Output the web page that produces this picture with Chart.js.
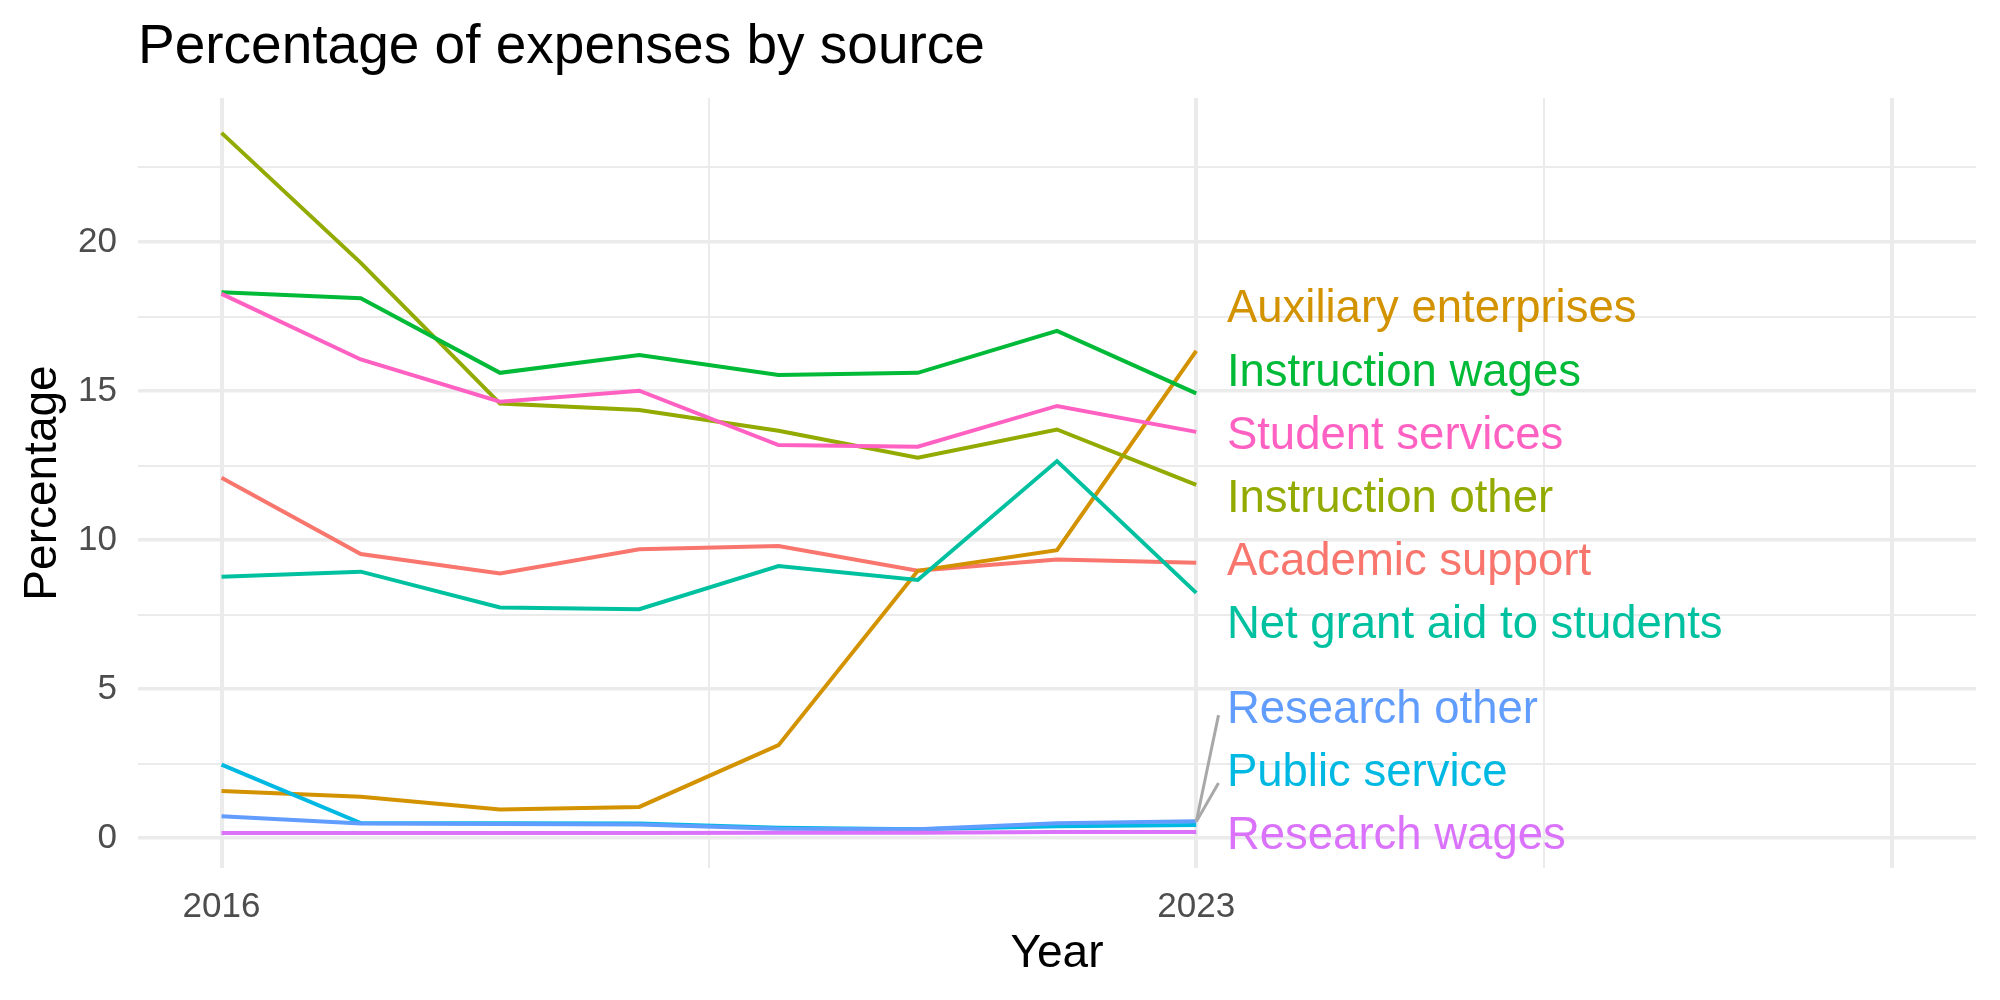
<!DOCTYPE html>
<html>
<head>
<meta charset="utf-8">
<script src="https://cdn.jsdelivr.net/npm/chart.js@4"></script>
<style>
  html, body { margin: 0; padding: 0; background: #fff; }
  #wrap { width: 2000px; height: 1000px; }
</style>
</head>
<body>
<div id="wrap"><canvas id="chart" width="2000" height="1000"></canvas></div>
<script>
const years = [2016, 2017, 2018, 2019, 2020, 2021, 2022, 2023];

const academicSupport = [12.09, 9.53, 8.88, 9.69, 9.80, 8.97, 9.35, 9.24];
const auxiliaryEnterprises = [1.58, 1.39, 0.96, 1.05, 3.12, 8.97, 9.66, 16.35];
const instructionOther = [23.66, 19.30, 14.58, 14.36, 13.67, 12.76, 13.71, 11.85];
const instructionWages = [18.31, 18.11, 15.61, 16.21, 15.54, 15.61, 17.02, 14.92];
const netGrantAid = [8.77, 8.94, 7.74, 7.68, 9.13, 8.66, 12.65, 8.23];
const publicService = [2.47, 0.51, 0.50, 0.49, 0.35, 0.30, 0.40, 0.44];
const researchOther = [0.74, 0.49, 0.48, 0.46, 0.32, 0.30, 0.50, 0.57];
const researchWages = [0.17, 0.17, 0.17, 0.17, 0.18, 0.18, 0.21, 0.21];
const studentServices = [18.26, 16.06, 14.64, 15.01, 13.19, 13.13, 14.50, 13.63];

const seriesNames = ["Academic support", "Auxiliary enterprises", "Instruction other",
  "Instruction wages", "Net grant aid to students", "Public service",
  "Research other", "Research wages", "Student services"];
const seriesValues = [academicSupport, auxiliaryEnterprises, instructionOther,
  instructionWages, netGrantAid, publicService, researchOther, researchWages, studentServices];
const seriesColors = ["#F8766D", "#D39200", "#93AA00", "#00BA38", "#00C19F",
  "#00B9E3", "#619CFF", "#DB72FB", "#FF61C3"];

// repelled label positions (y, in percentage units) at the right end
const labelY = [9.24, 17.72, 11.36, 15.6, 7.12, 2.17, 4.3, 0.05, 13.48];
const labelX = 2023.22;

// grey leader segments for the crowded labels near zero
const leaderFrom = [{ x: 2023, y: 0.55 }, { x: 2023, y: 0.55 }];
const leaderTo = [{ x: 2023.16, y: 4.13 }, { x: 2023.16, y: 1.85 }];

const xTicks = [2016, 2019.5, 2023, 2025.5, 2028];
const xLabelled = [2016, 2023];
const yTicks = [0, 2.5, 5, 7.5, 10, 12.5, 15, 17.5, 20, 22.5];

const FONT = "'Liberation Sans', Arial, Helvetica, sans-serif";

const datasets = seriesNames.map(function (name, i) {
  return {
    label: name,
    data: years.map(function (yr, j) { return { x: yr, y: seriesValues[i][j] }; }),
    borderColor: seriesColors[i],
    borderWidth: 4,
    pointRadius: 0,
    tension: 0,
    order: seriesNames.length - i + 2
  };
});

leaderFrom.forEach(function (p, i) {
  datasets.push({
    label: "leader" + i,
    data: [p, leaderTo[i]],
    borderColor: "#A8A8A8",
    borderWidth: 3,
    pointRadius: 0,
    order: 0
  });
});

const textPlugin = {
  id: "textPlugin",
  afterDraw: function (chart) {
    const ctx = chart.ctx;
    const area = chart.chartArea;
    const xs = chart.scales.x;
    const ys = chart.scales.y;
    ctx.save();

    // line labels
    ctx.font = "45.5px " + FONT;
    ctx.textAlign = "left";
    ctx.textBaseline = "middle";
    seriesNames.forEach(function (name, i) {
      ctx.fillStyle = seriesColors[i];
      ctx.fillText(name, xs.getPixelForValue(labelX), ys.getPixelForValue(labelY[i]));
    });

    // title
    ctx.fillStyle = "#000";
    ctx.font = "55px " + FONT;
    ctx.textBaseline = "alphabetic";
    ctx.fillText("Percentage of expenses by source", area.left, 63);

    // axis titles
    ctx.font = "46px " + FONT;
    ctx.textAlign = "center";
    ctx.fillText("Year", (area.left + area.right) / 2, 967);
    ctx.translate(56, (area.top + area.bottom) / 2);
    ctx.rotate(-Math.PI / 2);
    ctx.fillText("Percentage", 0, 0);
    ctx.restore();
  }
};

new Chart(document.getElementById("chart").getContext("2d"), {
  type: "line",
  data: { datasets: datasets },
  options: {
    responsive: false,
    animation: false,
    layout: { padding: { top: 98, right: 24, left: 0, bottom: 0 } },
    plugins: {
      legend: { display: false },
      tooltip: { enabled: false },
      title: { display: false }
    },
    scales: {
      x: {
        type: "linear",
        min: 2015.4,
        max: 2028.6,
        afterBuildTicks: function (scale) {
          scale.ticks = xTicks.map(function (v) { return { value: v }; });
        },
        afterFit: function (scale) { scale.height = 132; },
        border: { display: false },
        grid: {
          color: "#EBEBEB",
          drawTicks: false,
          lineWidth: function (c) {
            return (c.tick && xTicks.indexOf(c.tick.value) % 2 === 0) ? 4 : 2;
          }
        },
        ticks: {
          autoSkip: false,
          maxRotation: 0,
          padding: 18,
          color: "#4D4D4D",
          font: { size: 35, family: FONT },
          callback: function (v) { return xLabelled.indexOf(v) >= 0 ? String(v) : ""; }
        }
      },
      y: {
        type: "linear",
        min: -1.0,
        max: 24.83,
        afterBuildTicks: function (scale) {
          scale.ticks = yTicks.map(function (v) { return { value: v }; });
        },
        afterFit: function (scale) { scale.width = 138; },
        border: { display: false },
        grid: {
          color: "#EBEBEB",
          drawTicks: false,
          lineWidth: function (c) {
            return (c.tick && c.tick.value % 5 === 0) ? 3.5 : 2;
          }
        },
        ticks: {
          autoSkip: false,
          padding: 21,
          color: "#4D4D4D",
          font: { size: 35, family: FONT },
          callback: function (v) { return v % 5 === 0 ? String(v) : ""; }
        }
      }
    }
  },
  plugins: [textPlugin]
});
</script>
</body>
</html>
